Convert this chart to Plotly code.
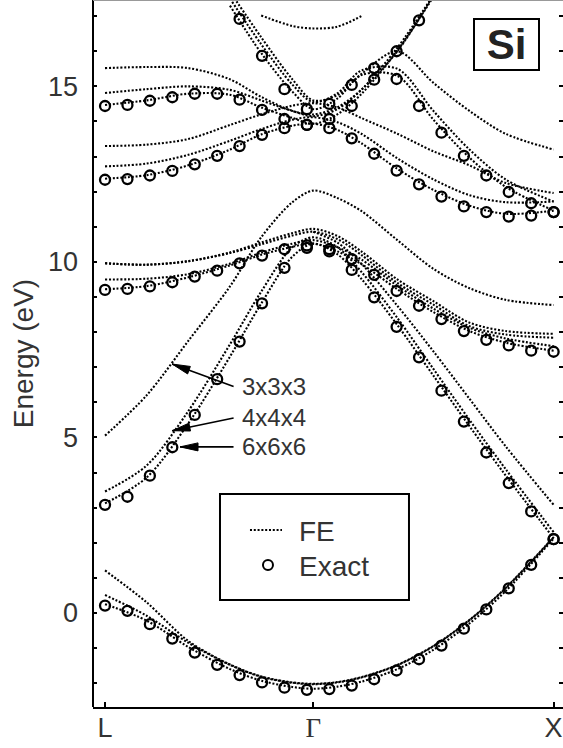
import math
import plotly.graph_objects as go

# ---------------- data ----------------
# k-path coordinates (L -> Gamma -> X), |L-G| = 0.866, |G-X| = 1.0 (units of 2pi/a)
X_TICK_VALS = [0.0, 0.866, 1.866]
X_TICK_LABELS = ["L", "Γ", "X"]
Y_TICK_VALS = list(range(-2, 18))
Y_LABELED = [0, 5, 10, 15]

# k points of the exact calculation (21 equally spaced points along the path)
K_EX = [0.0, 0.0933, 0.1866, 0.2799, 0.3732, 0.4665, 0.5598, 0.6531, 0.7464, 0.8397,
        0.933, 1.0263, 1.1196, 1.2129, 1.3062, 1.3995, 1.4928, 1.5861, 1.6794, 1.7727, 1.866]

EX_B1 = [0.21, 0.06, -0.32, -0.73, -1.13, -1.48, -1.77, -1.98, -2.13, -2.19, -2.17,
         -2.07, -1.89, -1.64, -1.32, -0.93, -0.45, 0.10, 0.70, 1.37, 2.10]
EX_B2 = [3.08, 3.31, 3.91, 4.72, 5.64, 6.66, 7.73, 8.82, 9.83, 10.40, 10.30,
         9.77, 8.99, 8.15, 7.28, 6.33, 5.45, 4.57, 3.70, 2.89, 2.10]
EX_B34 = [9.20, 9.23, 9.30, 9.42, 9.58, 9.75, 9.96, 10.18, 10.36, 10.47, 10.36,
          10.08, 9.63, 9.17, 8.75, 8.37, 8.03, 7.78, 7.62, 7.47, 7.44]
EX_C5 = [12.34, 12.36, 12.46, 12.59, 12.78, 13.02, 13.30, 13.62, 13.81, 13.90, 13.81,
         13.52, 13.08, 12.60, 12.21, 11.86, 11.58, 11.42, 11.29, 11.32, 11.42]
EX_C67 = [14.44, 14.47, 14.59, 14.69, 14.79, 14.79, 14.62, 14.33, 14.07, 13.90, 14.07,
          14.44, 15.19, 16.00, 16.88, None, None, None, None, None, None]
EX_C8 = [None, None, None, None, None, None, 16.92, 15.87, 14.92, 14.35, 14.50,
         15.04, 15.52, 15.21, 14.44, 13.68, 13.02, 12.46, 11.99, 11.67, 11.42]

# k nodes of the finite-element (FE) bands
K_FE = [0.0, 0.1732, 0.3464, 0.5196, 0.6495, 0.7794, 0.866,
        0.966, 1.066, 1.216, 1.366, 1.516, 1.666, 1.866]

# 6x6x6 mesh
FE6_B1 = [0.25, -0.22, -0.97, -1.60, -1.93, -2.11, -2.16, -2.10, -1.96, -1.60, -1.05, -0.30, 0.62, 2.12]
FE6_B2 = [3.12, 3.86, 5.40, 7.30, 8.81, 10.15, 10.52, 10.22, 9.52, 8.20, 6.76, 5.32, 3.92, 2.13]
FE6_B34 = [9.22, 9.31, 9.56, 9.90, 10.20, 10.43, 10.52, 10.30, 9.94, 9.22, 8.57, 8.03, 7.70, 7.47]
FE6_C5 = [12.37, 12.47, 12.75, 13.20, 13.63, 13.88, 13.94, 13.76, 13.38, 12.65, 12.05, 11.60, 11.37, 11.46]
FE6_C67 = [14.47, 14.60, 14.79, 14.76, 14.40, 14.10, 13.93, 14.20, 14.78, 16.02, 17.55, None, None, None]
FE6_C8 = [None, None, None, 17.30, 15.95, 14.85, 14.35, 14.65, 15.32, 15.30, 14.05, 12.97, 12.14, 11.46]

# 4x4x4 mesh
FE4_B1 = [0.51, -0.08, -0.85, -1.48, -1.82, -1.99, -2.03, -1.98, -1.84, -1.49, -0.95, -0.21, 0.70, 2.15]
FE4_B2 = [3.46, 4.20, 5.75, 7.65, 9.15, 10.42, 10.70, 10.42, 9.72, 8.40, 6.95, 5.50, 4.10, 2.30]
FE4_B34 = [9.50, 9.52, 9.65, 9.95, 10.26, 10.52, 10.62, 10.42, 10.07, 9.32, 8.67, 8.12, 7.82, 7.60]
FE4_C5 = [12.72, 12.80, 13.05, 13.45, 13.78, 14.05, 14.12, 13.98, 13.65, 12.95, 12.35, 11.90, 11.70, 11.72]
FE4_C67 = [14.81, 14.92, 15.00, 14.90, 14.60, 14.30, 14.15, 14.35, 14.90, 16.10, 17.60, None, None, None]
FE4_C8 = [None, None, None, 17.50, 16.20, 15.05, 14.55, 14.80, 15.45, 15.50, 14.30, 13.20, 12.35, 11.72]

# 3x3x3 mesh
FE3_B1 = [1.21, 0.30, -0.80, -1.47, -1.81, -1.98, -2.02, -1.97, -1.83, -1.48, -0.94, -0.20, 0.71, 2.16]
FE3_B2 = [5.05, 6.20, 7.75, 9.30, 10.70, 11.70, 12.03, 11.82, 11.45, 10.62, 9.80, 9.25, 8.92, 8.77]
FE3_B2X = [None, None, None, None, None, None, 10.86, 10.55, 9.95, 8.75, 7.45, 6.10, 4.75, 3.08]
FE3_B3 = [9.96, 9.92, 10.02, 10.25, 10.50, 10.75, 10.86, 10.65, 10.20, 9.40, 8.78, 8.17, 7.93, 7.84]
FE3_B4 = [9.96, 9.92, 10.02, 10.27, 10.55, 10.82, 10.94, 10.74, 10.30, 9.50, 8.88, 8.27, 8.03, 7.95]
FE3_C5 = [13.30, 13.34, 13.50, 13.90, 14.20, 14.45, 14.52, 14.40, 14.10, 13.65, 13.15, 12.75, 12.25, 11.96]
FE3_C67 = [15.52, 15.55, 15.52, 15.20, 14.70, 14.30, 14.20, 14.40, 14.90, 16.00, 17.60, None, None, None]
FE3_C8 = [None, None, None, 17.70, 16.40, 15.20, 14.60, 14.75, 15.35, 16.00, 15.10, 14.30, 13.65, 13.20]
FE3_C9 = [None, None, None, None, 17.02, 16.72, 16.65, 16.70, 17.00, None, None, None, None, None]

# mesh labels with arrows
MESH_LABELS = ["3x3x3", "4x4x4", "6x6x6"]
ARROW_HEAD_K = [0.279, 0.279, 0.312]
ARROW_HEAD_E = [7.09, 5.19, 4.73]
ARROW_TAIL_DX = [63, 63, 55]
ARROW_TAIL_DY = [23, -13, 0]
LABEL_K = 0.5616
LABEL_E = [6.45, 5.56, 4.73]

FE_SERIES = [FE6_B1, FE6_B2, FE6_B34, FE6_C5, FE6_C67, FE6_C8,
             FE4_B1, FE4_B2, FE4_B34, FE4_C5, FE4_C67, FE4_C8,
             FE3_B1, FE3_B2, FE3_B2X, FE3_B3, FE3_B4, FE3_C5, FE3_C67, FE3_C8, FE3_C9]
EX_SERIES = [EX_B1, EX_B2, EX_B34, EX_C5, EX_C67, EX_C8]

# ---------------- figure ----------------
TXT = "#333333"
FONT = "Liberation Sans, Arial, sans-serif"
DOT = "2px,1.8px"

fig = go.Figure()
for ys in FE_SERIES:
    fig.add_trace(go.Scatter(
        x=K_FE, y=ys, mode="lines", name="FE", showlegend=False, hoverinfo="skip",
        line=dict(color="black", width=2.1, dash=DOT, shape="spline", smoothing=0.9),
    ))
for ys in EX_SERIES:
    fig.add_trace(go.Scatter(
        x=K_EX, y=ys, mode="markers", name="Exact", showlegend=False, hoverinfo="skip",
        marker=dict(symbol="circle-open", size=10, color="black", line=dict(width=2.3, color="black")),
    ))

x_text = [
    lab if lab != "Γ" else "<span style='font-family:Liberation Serif, Times New Roman, serif'>Γ</span>"
    for lab in X_TICK_LABELS
]
y_text = [str(v) if v in Y_LABELED else "" for v in Y_TICK_VALS]

fig.update_layout(
    width=563, height=748,
    margin=dict(l=93, r=0, t=0, b=41, autoexpand=False),
    paper_bgcolor="white", plot_bgcolor="white",
    font=dict(family=FONT, color=TXT, size=26),
    xaxis=dict(range=[-0.05, 1.905], showgrid=False, zeroline=False,
               showline=True, linecolor="black", linewidth=2,
               ticks="inside", ticklen=5, tickwidth=1.5, tickcolor="black",
               tickvals=X_TICK_VALS, ticktext=x_text, ticklabeloverflow="allow",
               tickfont=dict(size=27, color=TXT, family=FONT), ticklabelstandoff=-4),
    yaxis=dict(range=[-2.68, 17.46], showgrid=False, zeroline=False,
               showline=False, mirror="ticks",
               ticks="inside", ticklen=4, tickwidth=1.5, tickcolor="black",
               tickvals=Y_TICK_VALS, ticktext=y_text,
               tickfont=dict(size=27, color=TXT, family=FONT), ticklabelstandoff=14,
               title=dict(text="Energy (eV)", font=dict(size=28, color=TXT, family=FONT), standoff=6)),
)

# axis frame: left line and (cropped) top line
fig.add_shape(type="line", xref="paper", yref="paper", x0=0, x1=0, y0=0, y1=1,
              line=dict(color="black", width=2))
fig.add_shape(type="line", xref="paper", yref="paper", x0=0, x1=1, y0=1, y1=1,
              line=dict(color="#999999", width=2))

# legend (manual box)
fig.add_shape(type="rect", xref="paper", yref="paper", x0=0.2702, x1=0.6723, y0=0.1513, y1=0.3013,
              line=dict(color="black", width=2), fillcolor="white", layer="above")
fig.add_shape(type="line", xref="paper", yref="paper", x0=0.334, x1=0.4021, y0=0.2504, y1=0.2504,
              line=dict(color="black", width=2.1, dash=DOT))
fig.add_shape(type="circle", xref="paper", yref="paper", xsizemode="pixel", ysizemode="pixel",
              xanchor=0.3723, yanchor=0.2008, x0=-5, x1=5, y0=-5, y1=5,
              line=dict(color="black", width=2))
fig.add_annotation(text="FE", xref="paper", yref="paper", x=0.434, y=0.2489, xanchor="left",
                   yanchor="middle", showarrow=False, font=dict(size=28, color=TXT, family=FONT))
fig.add_annotation(text="Exact", xref="paper", yref="paper", x=0.434, y=0.1994, xanchor="left",
                   yanchor="middle", showarrow=False, font=dict(size=28, color=TXT, family=FONT))

# material label
fig.add_annotation(text="<b>Si</b>", xref="paper", yref="paper", x=0.880, y=0.9364,
                   xanchor="center", yanchor="middle", showarrow=False,
                   width=63, height=49, borderpad=0, bordercolor="black", borderwidth=2,
                   bgcolor="white", font=dict(size=42, color="#222222", family=FONT))

# mesh labels and arrows (shaft as annotation arrow, narrow filled head as pixel-sized path)
HEAD_LEN, HEAD_HALF = 18.0, 4.0
for lab, hk, he, dx, dy, le in zip(MESH_LABELS, ARROW_HEAD_K, ARROW_HEAD_E,
                                    ARROW_TAIL_DX, ARROW_TAIL_DY, LABEL_E):
    fig.add_annotation(x=hk, y=he, ax=dx, ay=dy, text="", showarrow=True,
                       arrowhead=0, arrowwidth=1.7, arrowcolor="black")
    n = math.hypot(dx, dy)
    ux, uy = dx / n, -dy / n          # direction tip -> tail, y up
    px_, py_ = -uy, ux                # perpendicular
    bx, by = HEAD_LEN * ux, HEAD_LEN * uy
    path = (f"M0,0 L{bx + HEAD_HALF * px_:.2f},{by + HEAD_HALF * py_:.2f} "
            f"L{bx - HEAD_HALF * px_:.2f},{by - HEAD_HALF * py_:.2f} Z")
    fig.add_shape(type="path", xref="x", yref="y", xsizemode="pixel", ysizemode="pixel",
                  xanchor=hk, yanchor=he, path=path, fillcolor="black",
                  line=dict(color="black", width=1))
    fig.add_annotation(x=LABEL_K, y=le, text=lab, showarrow=False, xanchor="left",
                       yanchor="middle", font=dict(size=24, color=TXT, family=FONT))

fig.write_html("out.html", config={"displayModeBar": False},
               post_script="document.body.style.margin='0';document.body.style.overflow='hidden';")
